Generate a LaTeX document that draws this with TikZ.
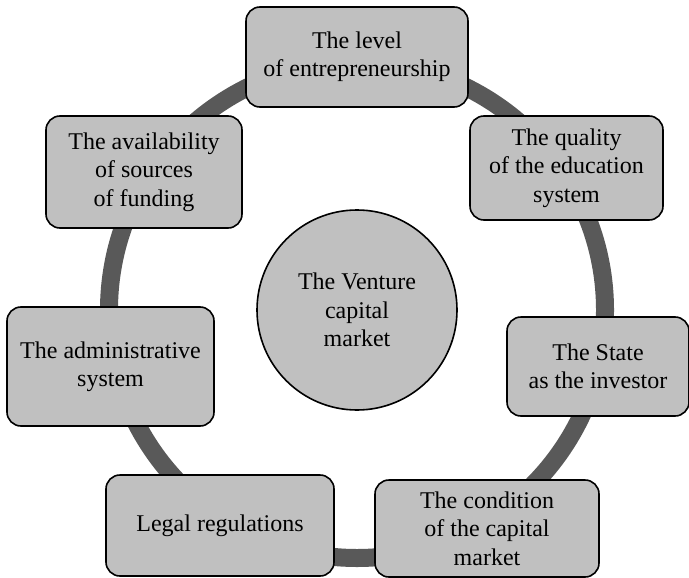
\documentclass[tikz,border=0pt]{standalone}
\usepackage{fontspec}
\setmainfont{Liberation Serif}
\definecolor{boxgray}{HTML}{C0C0C0}
\definecolor{ringgray}{HTML}{595959}

\begin{document}
\begin{tikzpicture}[x=0.5pt,y=-0.5pt,
  factor/.style={draw,rounded corners=7pt,fill=boxgray,line width=0.8pt,align=center,inner sep=0pt},
  every node/.style={font=\fontsize{12pt}{14.2pt}\selectfont}]
\useasboundingbox (0,0) rectangle (689,577);
\coordinate (c) at (357,310);
\draw[ringgray,line width=9pt] (c) circle[radius=124pt];
\node[draw,circle,fill=boxgray,line width=0.8pt,minimum size=100pt,align=center,inner sep=0pt] (0) at (c) {The Venture\\capital\\market};
\node[factor,minimum width=111pt,minimum height=50pt] (1) at (357,57) {The level\\of entrepreneurship};
\node[factor,minimum width=96.5pt,minimum height=52pt] (2) at (566.5,168) {The quality\\of the education\\system};
\node[factor,minimum width=91pt,minimum height=49.5pt] (3) at (598,366.5) {The State\\as the investor};
\node[factor,minimum width=112pt,minimum height=48.5pt] (4) at (487,528.5) {The condition\\of the capital\\market};
\node[factor,minimum width=114pt,minimum height=50.5pt] (5) at (220,525.5) {Legal regulations};
\node[factor,minimum width=103.5pt,minimum height=59.5pt] (6) at (110.5,366.5) {The administrative\\system};
\node[factor,minimum width=98pt,minimum height=56pt] (7) at (144,172) {The availability\\of sources\\of funding};
\end{tikzpicture}
\end{document}
